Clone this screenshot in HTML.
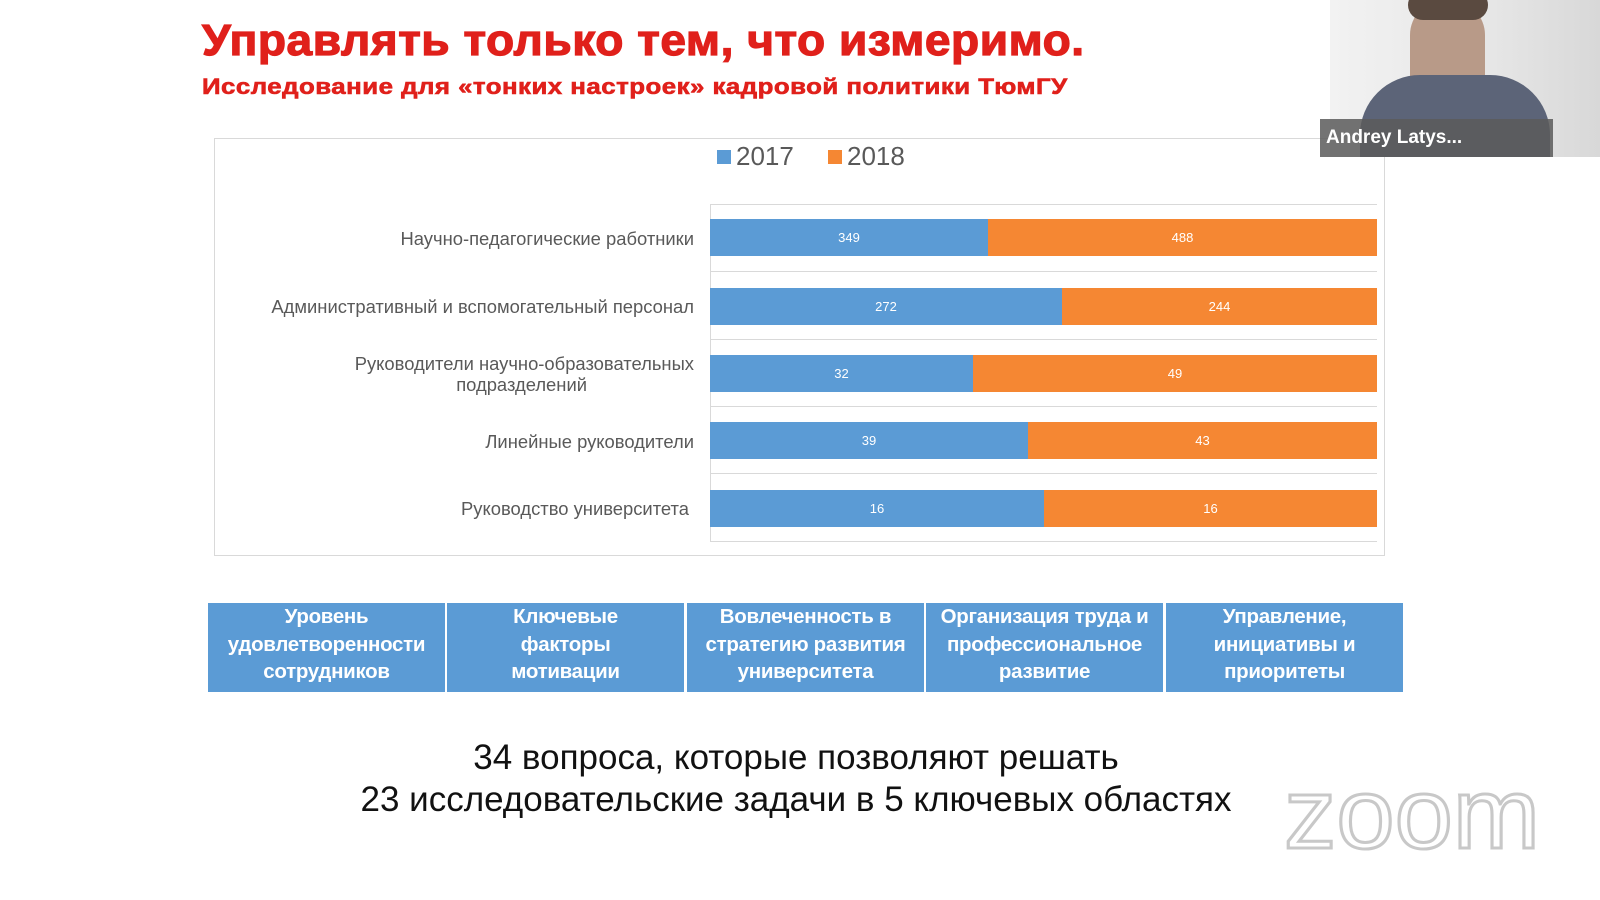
<!DOCTYPE html>
<html><head><meta charset="utf-8"><style>
body{margin:0;width:1600px;height:900px;background:#fff;position:relative;overflow:hidden;font-family:"Liberation Sans",sans-serif}
.a{position:absolute}
.lbl{position:absolute;right:906px;color:#595959;font-size:18.4px;text-align:right;line-height:21px}
.bar{position:absolute;height:37px;color:#fff;font-size:13px;line-height:37px;text-align:center}
.b{background:#5b9bd5}.o{background:#f58733}
.g{position:absolute;left:710px;width:667px;height:1px;background:#d9d9d9}
.cell{position:absolute;top:603px;height:89px;width:237px;background:#5b9bd5;color:#fff;font-family:"Liberation Sans Narrow","Liberation Sans",sans-serif;font-weight:bold;font-size:20.5px;line-height:27.5px;text-align:center;display:flex;align-items:center;justify-content:center;padding-bottom:6px;box-sizing:border-box;letter-spacing:-0.3px}
</style></head><body>
<div class="a" style="left:202px;top:16px;color:#e0201b;font-weight:bold;font-size:44px;letter-spacing:0.5px;white-space:nowrap;transform:scaleX(1.048);transform-origin:0 0;-webkit-text-stroke:1.2px #e0201b">Управлять только тем, что измеримо.</div>
<div class="a" style="left:202px;top:74px;color:#e0201b;font-weight:bold;font-size:22px;letter-spacing:0.4px;white-space:nowrap;transform:scaleX(1.175);transform-origin:0 0;-webkit-text-stroke:0.6px #e0201b">Исследование для «тонких настроек» кадровой политики ТюмГУ</div>

<div class="a" style="left:214px;top:138px;width:1169px;height:416px;border:1px solid #d9d9d9"></div>
<div class="a" style="left:717px;top:150px;width:14px;height:14px;background:#5b9bd5"></div>
<div class="a" style="left:736px;top:141px;font-size:26px;color:#595959">2017</div>
<div class="a" style="left:828px;top:150px;width:14px;height:14px;background:#f58733"></div>
<div class="a" style="left:847px;top:141px;font-size:26px;color:#595959">2018</div>

<div class="g" style="top:204px"></div><div class="g" style="top:271px"></div><div class="g" style="top:339px"></div><div class="g" style="top:406px"></div><div class="g" style="top:473px"></div><div class="g" style="top:541px"></div>
<div class="a" style="left:710px;top:204px;width:1px;height:337px;background:#d9d9d9"></div>

<div class="lbl" style="top:228px">Научно-педагогические работники</div>
<div class="lbl" style="top:296px">Административный и вспомогательный персонал</div>
<div class="lbl" style="top:353px">Руководители научно-образовательных<br><span style="margin-right:107px">подразделений</span></div>
<div class="lbl" style="top:498px;right:911px">Руководство университета</div>
<div class="lbl" style="top:431px">Линейные руководители</div>

<div class="bar b" style="left:710px;top:219px;width:278px">349</div><div class="bar o" style="left:988px;top:219px;width:389px">488</div>
<div class="bar b" style="left:710px;top:288px;width:352px">272</div><div class="bar o" style="left:1062px;top:288px;width:315px">244</div>
<div class="bar b" style="left:710px;top:355px;width:263px">32</div><div class="bar o" style="left:973px;top:355px;width:404px">49</div>
<div class="bar b" style="left:710px;top:422px;width:318px">39</div><div class="bar o" style="left:1028px;top:422px;width:349px">43</div>
<div class="bar b" style="left:710px;top:490px;width:334px">16</div><div class="bar o" style="left:1044px;top:490px;width:333px">16</div>

<div class="cell" style="left:208px">Уровень<br>удовлетворенности<br>сотрудников</div>
<div class="cell" style="left:447px">Ключевые<br>факторы<br>мотивации</div>
<div class="cell" style="left:687px">Вовлеченность в<br>стратегию развития<br>университета</div>
<div class="cell" style="left:926px">Организация труда и<br>профессиональное<br>развитие</div>
<div class="cell" style="left:1166px">Управление,<br>инициативы и<br>приоритеты</div>

<div class="a" style="left:0;width:1592px;top:737px;text-align:center;font-size:35px;line-height:42px;color:#111">34 вопроса, которые позволяют решать<br>23 исследовательские задачи в 5 ключевых областях</div>

<svg class="a" style="left:1280px;top:770px" width="270" height="90"><text x="4" y="78" font-family="Liberation Sans" font-size="100" fill="#fff" stroke="#c8c8c8" stroke-width="3" textLength="256" lengthAdjust="spacingAndGlyphs">zoom</text></svg>

<div class="a" style="left:1330px;top:0;width:270px;height:157px;background:linear-gradient(90deg,#f2f2f2,#e6e6e6 60%,#d8d8d8)"></div>
<div class="a" style="left:1410px;top:0;width:75px;height:110px;background:#b89a88;border-radius:35px 35px 30px 30px"></div>
<div class="a" style="left:1408px;top:-10px;width:80px;height:30px;background:#5a4a40;border-radius:30px"></div>
<div class="a" style="left:1360px;top:75px;width:190px;height:82px;background:#5c6478;border-radius:60px 60px 0 0"></div>
<div class="a" style="left:1320px;top:119px;width:233px;height:38px;background:rgba(90,90,90,0.85);color:#fff;font-weight:bold;font-size:19px;line-height:38px;padding-left:6px;box-sizing:border-box">Andrey Latys...</div>
</body></html>
